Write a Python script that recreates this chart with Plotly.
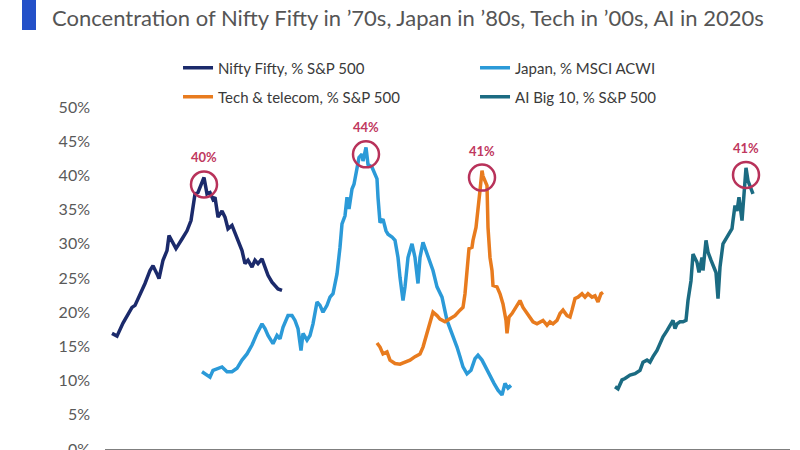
import plotly.graph_objects as go

# ---------------- data (time index aligned so each episode sits side by side) ----------------
nifty_t = [7, 12, 18, 27, 30, 37, 40, 45, 48, 52, 54, 58, 62, 64, 68, 71, 77, 82, 86, 88,
           90, 93, 97, 99, 102, 105, 108, 110, 113, 117, 120, 123, 127, 132, 137, 140, 143,
           147, 150, 153, 157, 160, 163, 167, 170, 173, 177]
nifty_v = [16.9, 16.5, 18.4, 20.7, 21.0, 23.2, 24.2, 26.1, 26.8, 25.6, 24.9, 27.6, 29.0, 31.2,
           30.0, 29.3, 30.7, 31.9, 33.4, 35.8, 37.3, 37.5, 39.0, 39.7, 37.3, 37.5, 36.5, 36.8,
           33.9, 34.8, 33.9, 32.2, 32.7, 30.7, 29.0, 27.1, 27.6, 26.6, 27.6, 27.1, 27.8, 26.6,
           25.4, 24.4, 23.9, 23.4, 23.2]

japan_t = [97, 102, 105, 108, 113, 117, 122, 127, 132, 137, 142, 147, 152, 157, 160, 163, 168,
           172, 175, 178, 183, 187, 190, 193, 196, 198, 202, 205, 208, 212, 215, 218, 222, 225,
           228, 232, 235, 237, 240, 242, 244, 247, 249, 252, 254, 257, 258, 261, 263, 267, 270,
           272, 273, 275, 278, 281, 283, 287, 290, 293, 295, 297, 298, 300, 303, 307, 310, 313,
           315, 318, 322, 325, 328, 332, 337, 342, 347, 352, 355, 358, 362, 366, 370, 373, 377,
           381, 385, 389, 393, 397, 400, 403, 406]
japan_v = [11.3, 10.8, 10.5, 11.5, 11.8, 12.0, 11.3, 11.3, 11.8, 13.0, 13.9, 15.2, 16.9, 18.3,
           17.6, 16.6, 15.4, 16.6, 16.1, 17.8, 19.5, 19.5, 18.8, 17.6, 14.4, 16.9, 15.9, 16.6,
           18.3, 21.5, 21.0, 20.0, 21.0, 22.2, 22.7, 25.6, 29.5, 32.9, 34.1, 36.8, 35.1, 38.0,
           38.7, 41.2, 42.6, 43.1, 42.1, 44.1, 41.6, 41.2, 40.2, 39.5, 36.8, 33.1, 33.6, 31.9,
           31.4, 31.0, 30.5, 28.0, 25.1, 23.2, 21.7, 23.7, 28.0, 30.0, 28.0, 24.2, 28.0, 30.2,
           28.5, 27.6, 26.1, 23.7, 22.2, 18.8, 16.9, 14.9, 13.5, 12.0, 11.0, 11.5, 13.2, 13.7,
           13.0, 11.8, 10.8, 9.6, 8.6, 7.9, 9.6, 8.9, 9.3]

tech_t = [272, 275, 278, 282, 285, 290, 295, 300, 305, 310, 315, 318, 322, 325, 328, 332, 335,
          340, 345, 350, 355, 358, 360, 362, 364, 367, 368, 371, 373, 375, 377, 378, 380, 382,
          383, 385, 387, 388, 392, 395, 398, 401, 402, 404, 407, 409, 412, 415, 418, 422, 425,
          428, 432, 435, 438, 442, 445, 448, 452, 455, 458, 462, 465, 467, 470, 473, 477, 480,
          483, 487, 490, 493, 496, 498]
tech_v = [15.5, 14.9, 13.9, 14.2, 13.0, 12.5, 12.4, 12.7, 13.0, 13.5, 13.9, 14.9, 16.9, 18.8,
          20.0, 19.5, 19.0, 18.6, 19.0, 19.5, 20.3, 20.7, 22.7, 26.1, 29.3, 29.5, 30.5, 32.4,
          35.8, 37.8, 40.7, 39.9, 39.2, 38.5, 32.4, 28.0, 26.1, 23.9, 23.7, 22.7, 21.2, 18.8,
          16.9, 19.3, 19.8, 20.3, 21.2, 21.7, 20.7, 19.8, 19.3, 18.6, 18.3, 18.6, 18.8, 18.1,
          18.6, 18.3, 18.8, 19.8, 20.3, 19.5, 19.3, 20.3, 22.0, 22.2, 22.7, 22.2, 22.7, 22.2,
          22.4, 21.5, 22.7, 22.9]

ai_t = [510, 513, 517, 520, 525, 530, 535, 538, 542, 545, 548, 552, 555, 558, 562, 565, 568,
        570, 572, 575, 578, 581, 583, 586, 588, 592, 594, 597, 598, 601, 603, 606, 608, 611,
        613, 615, 618, 621, 624, 627, 628, 630, 632, 634, 637, 639, 641, 643, 646, 648]
ai_v = [9.1, 8.8, 10.1, 10.3, 10.8, 11.0, 11.5, 12.7, 13.0, 12.7, 13.5, 14.4, 15.4, 16.4, 17.3,
        18.1, 18.8, 17.6, 18.3, 18.6, 18.6, 18.8, 21.7, 24.6, 28.5, 27.3, 25.8, 28.0, 26.1,
        30.5, 28.8, 27.6, 26.8, 25.8, 22.0, 26.6, 30.0, 30.7, 31.4, 32.2, 33.4, 35.6, 34.8,
        36.8, 33.4, 36.8, 41.1, 39.2, 38.0, 37.3]

series_names = ["Nifty Fifty, % S&P 500", "Japan, % MSCI ACWI",
                "Tech & telecom, % S&P 500", "AI Big 10, % S&P 500"]
peak_labels = ["40%", "44%", "41%", "41%"]
y_ticks = [0, 5, 10, 15, 20, 25, 30, 35, 40, 45, 50]
title_text = "Concentration of Nifty Fifty in \u201970s, Japan in \u201980s, Tech in \u201900s, AI in 2020s"

# ---------------- styling ----------------
colors = ["#1b2a6b", "#2b9ad8", "#e87b1e", "#1b6b82"]
legend_ref = ["legend", "legend", "legend2", "legend2"]
peak_color = "#b8325a"

series = [(nifty_t, nifty_v), (japan_t, japan_v), (tech_t, tech_v), (ai_t, ai_v)]

fig = go.Figure()
for (t, v), name, c, lg in zip(series, series_names, colors, legend_ref):
    fig.add_trace(go.Scatter(x=t, y=v, mode="lines", name=name, legend=lg,
                             line=dict(color=c, width=3.5), hoverinfo="skip"))

# peak circles + labels
for (t, v), lab in zip(series, peak_labels):
    i = max(range(len(v)), key=lambda k: v[k])
    fig.add_shape(type="circle", xref="x", yref="y", xsizemode="pixel", ysizemode="pixel",
                  xanchor=t[i], yanchor=v[i], x0=-13, x1=13, y0=-20, y1=6,
                  line=dict(color=peak_color, width=2.5), fillcolor="rgba(0,0,0,0)")
    fig.add_annotation(x=t[i], y=v[i], text=lab, showarrow=False, yshift=20,
                       font=dict(family="Lato", size=13, color="#c0385e", weight="bold"))

# left blue title bar
fig.add_shape(type="rect", xref="paper", yref="paper", x0=-0.1212, x1=-0.1007,
              y0=1.2251, y1=1.3129, fillcolor="#2350c8", line=dict(width=0))

leg_font = dict(family="Lato", size=15, color="#3a3a3a")
fig.update_layout(
    width=800, height=450,
    margin=dict(l=105, r=10, t=107, b=1, autoexpand=False),
    paper_bgcolor="white", plot_bgcolor="white",
    title=dict(text=title_text, xref="container", yref="container", x=52 / 800,
               xanchor="left", y=1 - 18 / 450, yanchor="middle",
               font=dict(family="Lato", size=22, color="#555555")),
    legend=dict(orientation="h", x=0.1066, xanchor="left", y=1.114, yanchor="middle",
                entrywidth=252, entrywidthmode="pixels", font=leg_font,
                bgcolor="rgba(0,0,0,0)", tracegroupgap=0),
    legend2=dict(orientation="h", x=0.1066, xanchor="left", y=1.029, yanchor="middle",
                 entrywidth=252, entrywidthmode="pixels", font=leg_font,
                 bgcolor="rgba(0,0,0,0)", tracegroupgap=0),
    showlegend=True,
)
fig.update_xaxes(range=[0, 685], showgrid=False, zeroline=False, showticklabels=False,
                 showline=True, linecolor="#7f7f7f", linewidth=2, ticks="", fixedrange=True,
                 automargin=False)
fig.update_yaxes(range=[0, 50], tickvals=y_ticks, ticktext=[f"{v}%" for v in y_ticks],
                 showgrid=False, zeroline=False, showline=False, ticks="",
                 ticklabelstandoff=14, ticklabeloverflow="allow", automargin=False,
                 tickfont=dict(family="Lato", size=16, color="#595959"), fixedrange=True)

fig.write_html("out.html")
